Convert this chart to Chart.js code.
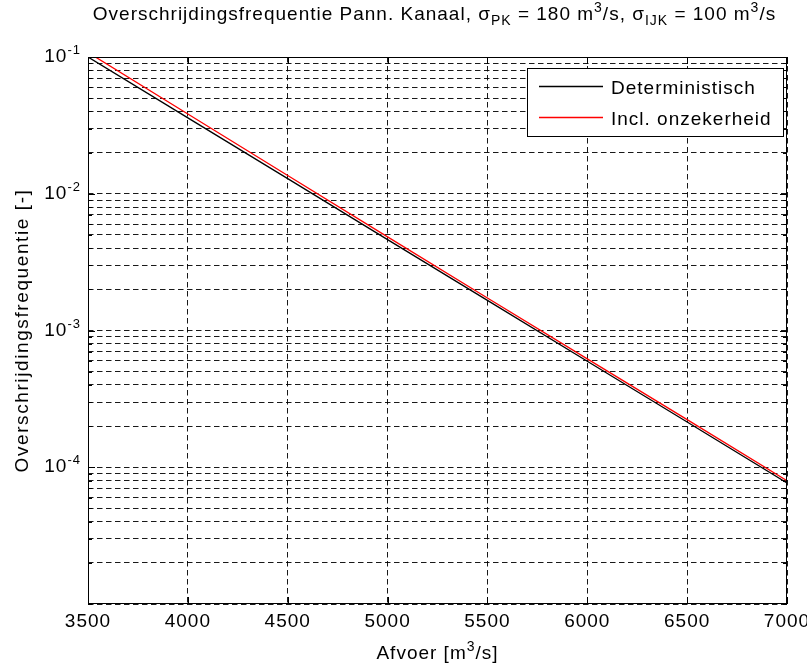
<!DOCTYPE html>
<html>
<head>
<meta charset="utf-8">
<script src="https://cdn.jsdelivr.net/npm/chart.js@4.4.1/dist/chart.umd.min.js"></script>
<style>
  body { margin: 0; background: #fff; }
  #wrap { width: 807px; height: 668px; }
</style>
</head>
<body>
<div id="wrap"><canvas id="line-chart"></canvas></div>
<script>
// data
const afvoer = [3500, 4000, 4500, 5000, 5500, 6000, 6500, 7000];
const deterministisch = [0.100, 0.0359, 0.0129, 0.00462, 0.00166, 0.000596, 0.000214, 0.0000767];
const onzekerheid = [0.108, 0.0383, 0.0136, 0.00484, 0.00173, 0.000620, 0.000223, 0.0000798];

const xTicks = [3500, 4000, 4500, 5000, 5500, 6000, 6500, 7000];
const yDecades = [1e-5, 1e-4, 1e-3, 1e-2];
const ySignificands = [1, 2, 3, 4, 5, 6, 7, 8, 9];
const yLabels = [1e-1, 1e-2, 1e-3, 1e-4];
const yLabelExp = ["-1", "-2", "-3", "-4"];

const FONT = "Liberation Sans";
const SPACING = "1px";

// grid values for the log axis: 1..9 in every decade, plus the top
var yGrid = [];
yDecades.forEach(function (d) {
  ySignificands.forEach(function (s) { yGrid.push(s * d); });
});
yGrid.push(1e-1);

function points(ys) {
  return afvoer.map(function (x, i) { return { x: x, y: ys[i] }; });
}

// draws text made of pieces [text, size, dy] (for sub/superscripts)
function drawParts(ctx, parts, x, y, align) {
  var w = 0;
  parts.forEach(function (p) {
    ctx.font = p[1] + "px '" + FONT + "'";
    w += ctx.measureText(p[0]).width;
  });
  var cx = x;
  if (align === "center") cx = x - w / 2;
  if (align === "right") cx = x - w;
  ctx.textAlign = "left";
  ctx.textBaseline = "alphabetic";
  parts.forEach(function (p) {
    ctx.font = p[1] + "px '" + FONT + "'";
    ctx.fillText(p[0], cx, y + (p[2] || 0));
    cx += ctx.measureText(p[0]).width;
  });
}

const matlabLook = {
  id: "matlabLook",
  beforeDraw: function (chart) {
    chart.ctx.letterSpacing = SPACING;
  },
  afterDraw: function (chart) {
    var ctx = chart.ctx;
    var a = chart.chartArea;
    var xs = chart.scales.x;
    var ys = chart.scales.y;
    ctx.save();
    ctx.letterSpacing = SPACING;

    // axes box
    ctx.strokeStyle = "#000";
    ctx.lineWidth = 1;
    ctx.setLineDash([]);
    ctx.strokeRect(a.left + 0.5, a.top + 0.5, a.right - a.left - 1, a.bottom - a.top - 1);

    // inward ticks
    ctx.beginPath();
    xTicks.forEach(function (v) {
      var px = Math.round(xs.getPixelForValue(v)) + 0.5;
      ctx.moveTo(px, a.bottom); ctx.lineTo(px, a.bottom - 7);
      ctx.moveTo(px, a.top); ctx.lineTo(px, a.top + 7);
    });
    yGrid.forEach(function (v) {
      var py = Math.round(ys.getPixelForValue(v)) + 0.5;
      var len = yLabels.indexOf(v) >= 0 ? 7 : 4;
      ctx.moveTo(a.left, py); ctx.lineTo(a.left + len, py);
      ctx.moveTo(a.right, py); ctx.lineTo(a.right - len, py);
    });
    ctx.stroke();

    ctx.fillStyle = "#000";

    // y tick labels 10^n
    yLabels.forEach(function (v, i) {
      var py = ys.getPixelForValue(v);
      drawParts(ctx, [["10", 19], [yLabelExp[i], 13, -8]], a.left - 7, py + 5, "right");
    });

    // title
    drawParts(ctx, [
      ["Overschrijdingsfrequentie Pann. Kanaal, \u03c3", 19],
      ["PK", 14, 5],
      [" = 180 m", 19],
      ["3", 14, -8],
      ["/s, \u03c3", 19],
      ["IJK", 14, 5],
      [" = 100 m", 19],
      ["3", 14, -8],
      ["/s", 19]
    ], (a.left + a.right) / 2 - 3, 20, "center");

    // x axis title
    drawParts(ctx, [["Afvoer [m", 19], ["3", 14, -8], ["/s]", 19]], (a.left + a.right) / 2, 659, "center");

    // y axis title
    ctx.save();
    ctx.letterSpacing = "1.6px";
    ctx.translate(28, (a.top + a.bottom) / 2);
    ctx.rotate(-Math.PI / 2);
    drawParts(ctx, [["Overschrijdingsfrequentie [-]", 19]], 0, 0, "center");
    ctx.restore();

    // legend
    var lx = 527, ly = 68, lw = 256, lh = 68;
    ctx.fillStyle = "#fff";
    ctx.fillRect(lx, ly, lw, lh);
    ctx.strokeStyle = "#000";
    ctx.lineWidth = 1;
    ctx.strokeRect(lx + 0.5, ly + 0.5, lw, lh);
    chart.data.datasets.forEach(function (ds, i) {
      var rowY = 86.5 + i * 31;
      ctx.strokeStyle = ds.borderColor;
      ctx.lineWidth = 1.5;
      ctx.beginPath();
      ctx.moveTo(539, rowY); ctx.lineTo(603, rowY);
      ctx.stroke();
      ctx.fillStyle = "#000";
      drawParts(ctx, [[ds.label, 19]], 611, rowY + 7, "left");
    });

    ctx.restore();
  }
};

new Chart(document.getElementById("line-chart"), {
  type: 'line',
  data: {
    datasets: [
      {
        label: "Deterministisch",
        data: points(deterministisch),
        borderColor: "#000000",
        borderWidth: 1.3,
        pointRadius: 0,
        tension: 0,
        fill: false
      },
      {
        label: "Incl. onzekerheid",
        data: points(onzekerheid),
        borderColor: "#ff0000",
        borderWidth: 1.3,
        pointRadius: 0,
        tension: 0,
        fill: false
      }
    ]
  },
  options: {
    responsive: true,
    maintainAspectRatio: false,
    animation: false,
    layout: {
      padding: { top: 57, right: 20, left: 0, bottom: 0 }
    },
    plugins: {
      legend: { display: false },
      tooltip: { enabled: false },
      title: { display: false }
    },
    scales: {
      x: {
        type: 'linear',
        min: 3500,
        max: 7000,
        afterBuildTicks: function (scale) {
          scale.ticks = xTicks.map(function (v) { return { value: v }; });
        },
        afterFit: function (scale) {
          scale.height = 64;
          scale.paddingLeft = 0;
          scale.paddingRight = 0;
        },
        grid: {
          color: "rgba(0,0,0,0.9)",
          lineWidth: 1,
          drawTicks: false
        },
        border: { display: false, dash: [5.5, 3.5] },
        ticks: {
          autoSkip: false,
          maxRotation: 0,
          padding: 6,
          color: "#000",
          font: { family: FONT, size: 19 },
          callback: function (value) { return String(value); }
        }
      },
      y: {
        type: 'logarithmic',
        min: 1e-5,
        max: 1e-1,
        afterBuildTicks: function (scale) {
          scale.ticks = yGrid.map(function (v) { return { value: v }; });
        },
        afterFit: function (scale) {
          scale.width = 88;
          scale.paddingTop = 0;
          scale.paddingBottom = 0;
        },
        grid: {
          color: "rgba(0,0,0,0.9)",
          lineWidth: 1,
          drawTicks: false
        },
        border: { display: false, dash: [5.5, 3.5] },
        ticks: { display: false, autoSkip: false }
      }
    }
  },
  plugins: [matlabLook]
});
</script>
</body>
</html>
